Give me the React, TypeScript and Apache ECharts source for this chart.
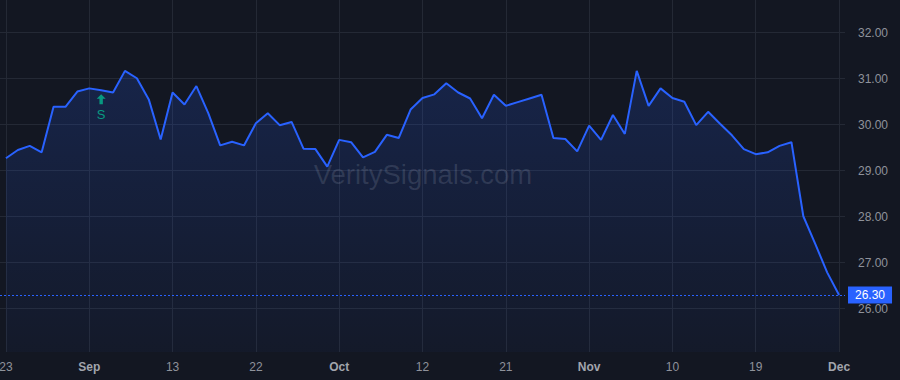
import { useEffect, useRef } from "react";
import * as echarts from "echarts";

// Closing prices (one per session)
const prices: number[] = [
  29.27, 29.45, 29.54, 29.4, 30.39, 30.39, 30.72, 30.79, 30.75, 30.7,
  31.17, 31.01, 30.55, 29.68, 30.7, 30.44, 30.84, 30.25, 29.55, 29.63,
  29.55, 30.03, 30.25, 29.99, 30.06, 29.48, 29.47, 29.09, 29.67, 29.62,
  29.29, 29.41, 29.78, 29.71, 30.33, 30.58, 30.66, 30.9, 30.7, 30.57,
  30.14, 30.65, 30.41, 30.49, 30.57, 30.65, 29.71, 29.69, 29.42, 29.98,
  29.67, 30.21, 29.8, 31.17, 30.41, 30.79, 30.58, 30.5, 29.99, 30.28,
  30.02, 29.77, 29.47, 29.36, 29.4, 29.54, 29.62, 28.01, 27.41, 26.79,
  26.3,
];
const sessions: string[] = prices.map((_, i) => String(i));
const tickLabels: string[] = ["23", "Sep", "13", "22", "Oct", "12", "21", "Nov", "10", "19", "Dec"];
const monthNames: string[] = ["Sep", "Oct", "Nov", "Dec"];
const tickEvery = 7;
const lastPrice = 26.3;
const signalIndex = 8;
const signalText = "S";
const watermarkText = "VeritySignals.com";

const BG = "#131722";
const GRID = "#242935";
const TEXT = "#8f929b";
const BLUE = "#2962ff";
const GREEN = "#089981";
const FONT = "'Liberation Sans', Arial, sans-serif";

export default function App() {
  const ref = useRef<HTMLDivElement>(null);

  useEffect(() => {
    if (!ref.current) return;
    const chart = echarts.init(ref.current, null, { renderer: "svg" });
    const option: any = {
      animation: false,
      backgroundColor: BG,
      textStyle: { fontFamily: FONT },
      grid: {
        left: 0,
        right: 55,
        top: 0,
        bottom: 28,
        containLabel: false,
        outerBoundsMode: "none",
      },
      graphic: [
        {
          type: "text",
          x: 423,
          y: 174,
          z: 1,
          silent: true,
          style: {
            text: watermarkText,
            fill: "rgba(255,255,255,0.13)",
            font: `27.5px ${FONT}`,
            textAlign: "center",
            textVerticalAlign: "middle",
          },
        },
      ],
      xAxis: {
        type: "category",
        data: sessions,
        boundaryGap: true,
        axisLine: { show: false },
        axisTick: { show: false },
        axisLabel: {
          interval: (i: number) => i % tickEvery === 0,
          margin: 9,
          fontSize: 12,
          color: TEXT,
          fontFamily: FONT,
          formatter: (_v: string, i: number) => {
            const t = tickLabels[Math.round(i / tickEvery)] ?? "";
            return monthNames.includes(t) ? `{m|${t}}` : t;
          },
          rich: {
            m: { fontWeight: "bold", color: "#a2a5ad", fontSize: 12, fontFamily: FONT },
          },
        },
        splitLine: {
          show: true,
          alignWithLabel: true,
          interval: (i: number) => i % tickEvery === 0,
          lineStyle: { color: GRID, width: 1 },
        },
      },
      yAxis: {
        type: "value",
        position: "right",
        min: 25.059,
        max: 32.711,
        minInterval: 1,
        maxInterval: 1,
        axisLine: { show: false },
        axisTick: { show: false },
        axisLabel: {
          showMinLabel: false,
          showMaxLabel: false,
          margin: 13,
          fontSize: 12,
          color: TEXT,
          fontFamily: FONT,
          formatter: (v: number) => v.toFixed(2),
        },
        splitLine: {
          show: true,
          showMinLine: false,
          showMaxLine: false,
          lineStyle: { color: GRID, width: 1 },
        },
      },
      series: [
        {
          type: "line",
          data: prices,
          symbol: "none",
          z: 3,
          lineStyle: { color: BLUE, width: 2 },
          areaStyle: {
            color: new echarts.graphic.LinearGradient(0, 0, 0, 1, [
              { offset: 0, color: "rgba(41,98,255,0.25)" },
              { offset: 1, color: "rgba(41,98,255,0.05)" },
            ]),
          },
          markLine: {
            silent: true,
            symbol: "none",
            lineStyle: { color: BLUE, type: [2, 2], width: 1 },
            data: [{ yAxis: lastPrice }],
            label: {
              show: true,
              position: "end",
              distance: 3,
              formatter: () => lastPrice.toFixed(2),
              backgroundColor: BLUE,
              color: "#ffffff",
              fontSize: 12,
              fontFamily: FONT,
              padding: [2, 7, 2, 7],
              lineHeight: 13,
            },
          },
          markPoint: {
            silent: true,
            data: [
              {
                coord: [signalIndex, prices[signalIndex]],
                symbol: "path://M4.5,0 L9,4.5 L6.2,4.5 L6.2,10 L2.8,10 L2.8,4.5 L0,4.5 Z",
                symbolSize: [9, 10],
                symbolOffset: [0, 9],
                itemStyle: { color: GREEN },
                label: {
                  show: true,
                  position: "bottom",
                  distance: 4,
                  formatter: signalText,
                  color: GREEN,
                  fontSize: 13,
                  fontFamily: FONT,
                },
              },
            ],
          },
        },
      ],
    };
    chart.setOption(option);
    return () => chart.dispose();
  }, []);

  return (
    <div
      ref={ref}
      style={{ position: "fixed", left: 0, top: 0, width: 900, height: 380, background: BG }}
    />
  );
}
